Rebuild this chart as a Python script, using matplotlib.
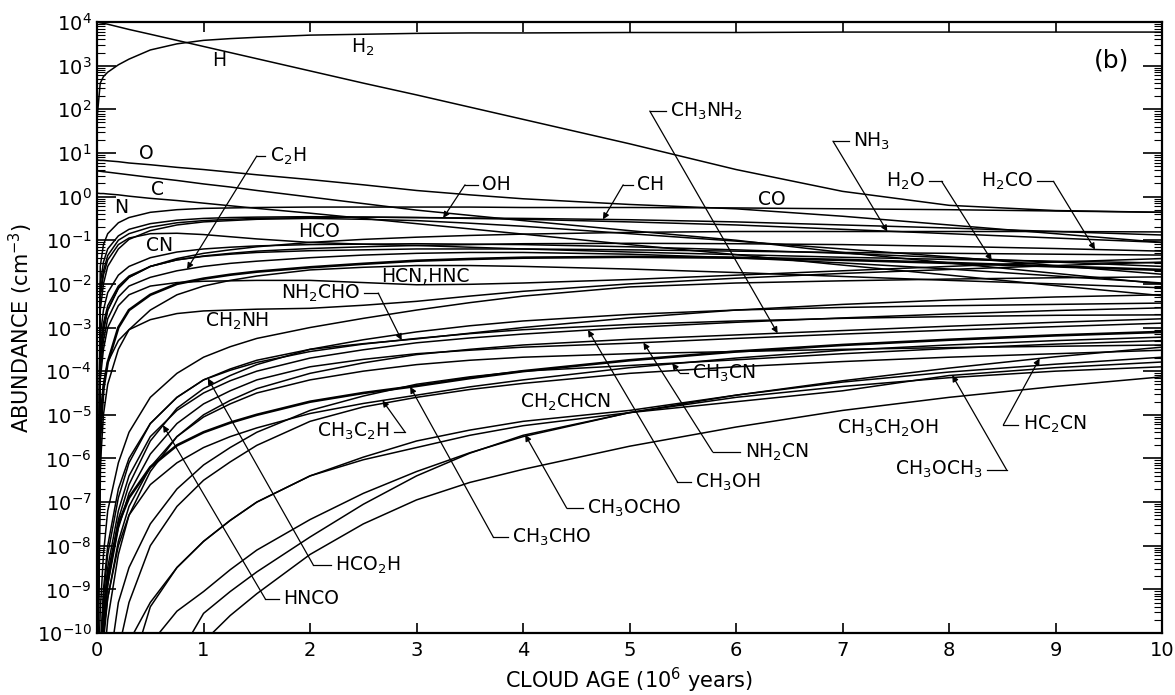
import numpy as np
import matplotlib
matplotlib.use("Agg")
import matplotlib.pyplot as plt
from matplotlib.ticker import LogLocator, NullFormatter

plt.rcParams["font.family"] = ["DejaVu Sans"]
plt.rcParams["mathtext.fontset"] = "dejavusans"

# cloud age (10^6 yr) and log10 abundance (cm^-3) at each age
t_grid = [0, 0.03, 0.06, 0.1, 0.2, 0.3, 0.5, 0.75, 1, 1.25, 1.5, 2, 2.5, 3, 3.5, 4, 5, 6, 7, 8, 9, 10]

ab_H = [4.0, 3.98, 3.97, 3.95, 3.89, 3.83, 3.72, 3.58, 3.44, 3.3, 3.16, 2.88, 2.6, 2.33, 2.05, 1.77, 1.21, 0.62, 0.12, -0.2, -0.32, -0.36]
ab_H2 = [1.8, 2.6, 2.75, 2.85, 3.02, 3.15, 3.36, 3.5, 3.58, 3.62, 3.65, 3.7, 3.72, 3.74, 3.75, 3.75, 3.76, 3.76, 3.77, 3.77, 3.77, 3.77]
ab_O = [0.84, 0.83, 0.83, 0.82, 0.80, 0.77, 0.73, 0.67, 0.62, 0.56, 0.50, 0.39, 0.27, 0.14, 0.04, -0.05, -0.18, -0.28, -0.45, -0.65, -0.85, -1.05]
ab_C = [0.59, 0.58, 0.57, 0.56, 0.53, 0.50, 0.44, 0.37, 0.29, 0.22, 0.14, -0.01, -0.16, -0.31, -0.43, -0.55, -0.78, -1.0, -1.28, -1.52, -1.76, -2.0]
ab_N = [0.08, 0.07, 0.07, 0.06, 0.04, 0.01, -0.04, -0.09, -0.15, -0.21, -0.27, -0.38, -0.5, -0.62, -0.74, -0.86, -1.1, -1.33, -1.57, -1.8, -2.04, -2.27]
ab_CO = [-12, -1.6, -1.1, -0.85, -0.6, -0.48, -0.36, -0.3, -0.27, -0.26, -0.25, -0.24, -0.24, -0.24, -0.24, -0.25, -0.25, -0.26, -0.28, -0.3, -0.33, -0.36]
ab_OH = [-12, -2.0, -1.5, -1.2, -0.9, -0.75, -0.62, -0.54, -0.5, -0.48, -0.47, -0.46, -0.47, -0.48, -0.5, -0.52, -0.58, -0.65, -0.75, -0.85, -0.95, -1.05]
ab_CH = [-12, -2.2, -1.7, -1.35, -1.0, -0.85, -0.7, -0.6, -0.55, -0.52, -0.5, -0.48, -0.47, -0.48, -0.49, -0.5, -0.53, -0.58, -0.65, -0.72, -0.8, -0.88]
ab_NH3 = [-12, -3.8, -3.1, -2.6, -2.1, -1.85, -1.6, -1.42, -1.3, -1.22, -1.15, -1.05, -0.98, -0.93, -0.89, -0.86, -0.82, -0.8, -0.8, -0.8, -0.8, -0.81]
ab_H2O = [-12, -2.6, -2.0, -1.6, -1.2, -0.98, -0.78, -0.65, -0.58, -0.55, -0.52, -0.5, -0.52, -0.55, -0.61, -0.68, -0.85, -1.02, -1.2, -1.38, -1.58, -1.78]
ab_H2CO = [-12, -3.4, -2.9, -2.5, -2.05, -1.82, -1.6, -1.45, -1.36, -1.3, -1.25, -1.19, -1.15, -1.12, -1.1, -1.08, -1.07, -1.08, -1.1, -1.14, -1.19, -1.25]
ab_HCO = [-12, -3.2, -2.6, -2.2, -1.8, -1.6, -1.4, -1.27, -1.2, -1.16, -1.13, -1.1, -1.09, -1.08, -1.09, -1.1, -1.15, -1.22, -1.3, -1.4, -1.5, -1.6]
ab_CN = [-12, -2.3, -1.8, -1.45, -1.1, -0.95, -0.85, -0.84, -0.87, -0.92, -0.97, -1.05, -1.09, -1.12, -1.16, -1.2, -1.27, -1.33, -1.39, -1.44, -1.48, -1.52]
ab_C2H = [-12, -4.0, -3.3, -2.8, -2.3, -2.05, -1.85, -1.7, -1.6, -1.53, -1.48, -1.4, -1.34, -1.3, -1.28, -1.28, -1.32, -1.4, -1.52, -1.66, -1.82, -1.98]
ab_HCN = [-12, -4.2, -3.5, -3.0, -2.5, -2.25, -2.05, -1.97, -1.94, -1.93, -1.92, -1.92, -1.97, -2.02, -2.01, -1.98, -1.9, -1.8, -1.7, -1.6, -1.5, -1.42]
ab_HNC = [-12, -5.0, -4.3, -3.8, -3.3, -3.05, -2.82, -2.68, -2.62, -2.6, -2.58, -2.56, -2.49, -2.4, -2.28, -2.17, -2.0, -1.87, -1.76, -1.67, -1.58, -1.5]
ab_bold = [-12, -5.5, -4.4, -3.8, -3.0, -2.6, -2.25, -2.0, -1.88, -1.79, -1.72, -1.62, -1.54, -1.47, -1.43, -1.4, -1.38, -1.4, -1.45, -1.52, -1.6, -1.68]
ab_X1 = [-12, -3.6, -3.0, -2.6, -2.1, -1.85, -1.6, -1.45, -1.37, -1.32, -1.28, -1.24, -1.22, -1.2, -1.2, -1.2, -1.22, -1.25, -1.28, -1.3, -1.32, -1.34]
ab_Y1 = [-12, -6.2, -5.0, -4.3, -3.5, -3.05, -2.6, -2.25, -2.05, -1.92, -1.82, -1.68, -1.62, -1.58, -1.58, -1.6, -1.66, -1.74, -1.83, -1.92, -2.0, -2.09]
ab_CH2NH = [-12, -9.5, -8.2, -7.2, -6.1, -5.4, -4.6, -4.05, -3.68, -3.44, -3.25, -3.0, -2.79, -2.6, -2.43, -2.28, -2.07, -1.98, -1.93, -1.89, -1.86, -1.84]
ab_NH2CHO = [-12, -10.5, -9.2, -8.2, -6.9, -6.1, -5.2, -4.6, -4.2, -3.95, -3.75, -3.5, -3.37, -3.26, -3.13, -3.0, -2.78, -2.6, -2.47, -2.37, -2.3, -2.25]
ab_HNCO = [-12, -11.5, -10.0, -8.9, -7.4, -6.6, -5.6, -4.85, -4.4, -4.1, -3.85, -3.5, -3.28, -3.1, -2.96, -2.85, -2.7, -2.6, -2.54, -2.5, -2.47, -2.44]
ab_HCO2H = [-12, -10.5, -9.0, -8.0, -6.7, -6.0, -5.2, -4.6, -4.2, -3.98, -3.8, -3.55, -3.38, -3.25, -3.14, -3.05, -2.93, -2.85, -2.79, -2.75, -2.72, -2.71]
ab_CH3OH = [-12, -10.8, -9.5, -8.5, -7.2, -6.4, -5.5, -4.9, -4.5, -4.22, -4.0, -3.7, -3.51, -3.35, -3.24, -3.15, -3.0, -2.88, -2.78, -2.69, -2.61, -2.55]
ab_CH3NH2 = [-12, -12, -10.8, -9.7, -8.2, -7.3, -6.3, -5.5, -5.0, -4.67, -4.4, -4.05, -3.81, -3.62, -3.5, -3.4, -3.27, -3.17, -3.07, -2.97, -2.88, -2.8]
ab_NH2CN = [-12, -11.0, -9.8, -8.9, -7.6, -6.8, -5.9, -5.2, -4.75, -4.45, -4.2, -3.9, -3.73, -3.6, -3.52, -3.45, -3.36, -3.25, -3.15, -3.06, -2.98, -2.9]
ab_CH3CHO = [-12, -11.0, -9.6, -8.7, -7.5, -6.9, -6.2, -5.7, -5.4, -5.18, -5.0, -4.7, -4.5, -4.34, -4.16, -4.0, -3.75, -3.55, -3.4, -3.28, -3.18, -3.1]
ab_CH3C2H = [-12, -11.5, -10.2, -9.2, -8.0, -7.3, -6.6, -6.1, -5.75, -5.5, -5.3, -4.97, -4.74, -4.55, -4.36, -4.2, -3.92, -3.7, -3.52, -3.4, -3.3, -3.22]
ab_CH3CN = [-12, -12, -12, -11.0, -9.3, -8.5, -7.5, -6.7, -6.15, -5.75, -5.4, -4.9, -4.57, -4.3, -4.13, -4.0, -3.87, -3.74, -3.6, -3.48, -3.38, -3.3]
ab_X2 = [-12, -11.0, -10.0, -9.2, -7.9, -7.1, -6.2, -5.5, -5.05, -4.75, -4.5, -4.2, -4.0, -3.85, -3.75, -3.68, -3.6, -3.55, -3.5, -3.46, -3.43, -3.4]
ab_X3 = [-12, -12, -12, -12, -10.4, -9.3, -8.0, -7.1, -6.5, -6.08, -5.7, -5.15, -4.82, -4.6, -4.42, -4.28, -4.05, -3.9, -3.78, -3.68, -3.6, -3.52]
ab_HC2CN = [-12, -12, -12, -12, -12, -11.0, -9.4, -8.5, -7.9, -7.42, -7.0, -6.4, -5.97, -5.6, -5.35, -5.15, -4.9, -4.55, -4.22, -3.93, -3.67, -3.45]
ab_CH3OCH3 = [-12, -12, -12, -12, -12, -10.2, -9.3, -8.5, -7.9, -7.42, -7.0, -6.4, -6.03, -5.75, -5.47, -5.25, -4.95, -4.7, -4.45, -4.1, -3.92, -3.79]
ab_CH2CHCN = [-12, -12, -12, -12, -12, -12, -10.25, -9.5, -9.05, -8.55, -8.1, -7.4, -6.8, -6.3, -5.87, -5.5, -4.95, -4.55, -4.25, -4.02, -3.84, -3.68]
ab_CH3OCHO = [-12, -12, -12, -12, -12, -12, -12, -10.6, -9.55, -9.05, -8.6, -7.8, -7.05, -6.4, -5.88, -5.47, -4.95, -4.6, -4.35, -4.15, -4.0, -3.9]
ab_CH3CH2OH = [-12, -12, -12, -12, -12, -12, -12, -12, -10.2, -9.6, -9.1, -8.2, -7.5, -6.95, -6.55, -6.25, -5.72, -5.28, -4.9, -4.6, -4.35, -4.13]

curves = [ab_H, ab_H2, ab_O, ab_C, ab_N, ab_CO, ab_OH, ab_CH, ab_NH3, ab_H2O, ab_H2CO,
          ab_HCO, ab_CN, ab_C2H, ab_HCN, ab_HNC, ab_X1, ab_Y1, ab_CH2NH, ab_NH2CHO,
          ab_HNCO, ab_HCO2H, ab_CH3OH, ab_CH3NH2, ab_NH2CN, ab_CH3C2H, ab_CH3CN,
          ab_X2, ab_X3, ab_HC2CN, ab_CH3OCH3, ab_CH2CHCN, ab_CH3OCHO, ab_CH3CH2OH]
heavy = [ab_bold, ab_CH3CHO]

# labels sitting next to their curve: text, age, log n
plain_labels = [
    ("H", 1.15, 3.11), (r"H$_2$", 2.49, 3.41), ("O", 0.46, 0.98), ("C", 0.57, 0.17),
    ("N", 0.23, -0.24), ("CN", 0.59, -1.11), ("HCO", 2.08, -0.81), ("CO", 6.34, -0.07),
    ("HCN,HNC", 3.08, -1.82), (r"CH$_2$NH", 1.31, -2.87), (r"CH$_2$CHCN", 4.40, -4.71),
    (r"CH$_3$CH$_2$OH", 7.42, -5.30),
]

# labels with a leader: text, curve, arrow age, text age, text log n, elbow age, alignment
leader_labels = [
    (r"C$_2$H", ab_C2H, 0.845, 1.62, 0.93, 1.50, "left"),
    ("OH", ab_OH, 3.25, 3.615, 0.27, 3.455, "left"),
    ("CH", ab_CH, 4.75, 5.07, 0.27, 4.94, "left"),
    (r"CH$_3$NH$_2$", ab_CH3NH2, 6.39, 5.38, 1.96, 5.19, "left"),
    (r"NH$_3$", ab_NH3, 7.42, 7.10, 1.27, 6.91, "left"),
    (r"H$_2$O", ab_H2O, 8.40, 7.775, 0.35, 7.93, "right"),
    (r"H$_2$CO", ab_H2CO, 9.37, 8.79, 0.35, 8.98, "right"),
    (r"NH$_2$CHO", ab_NH2CHO, 2.86, 2.47, -2.21, 2.64, "right"),
    (r"CH$_3$CN", ab_CH3CN, 5.40, 5.59, -4.04, 5.47, "left"),
    (r"CH$_3$C$_2$H", ab_CH3C2H, 2.68, 2.75, -5.39, 2.89, "right"),
    (r"HC$_2$CN", ab_HC2CN, 8.85, 8.69, -5.23, 8.51, "left"),
    (r"CH$_3$OCH$_3$", ab_CH3OCH3, 8.03, 8.32, -6.26, 8.54, "right"),
    (r"NH$_2$CN", ab_NH2CN, 5.13, 6.08, -5.85, 5.78, "left"),
    (r"CH$_3$OH", ab_CH3OH, 4.61, 5.615, -6.54, 5.45, "left"),
    (r"CH$_3$OCHO", ab_CH3OCHO, 4.02, 4.60, -7.14, 4.41, "left"),
    (r"CH$_3$CHO", ab_CH3CHO, 2.94, 3.90, -7.80, 3.72, "left"),
    (r"HCO$_2$H", ab_HCO2H, 1.04, 2.235, -8.44, 2.03, "left"),
    ("HNCO", ab_HNCO, 0.62, 1.75, -9.22, 1.58, "left"),
]

fig = plt.figure(figsize=(11.75, 6.95), dpi=100)
ax = fig.add_axes([0.0826, 0.0892, 0.9064, 0.8791])

for v in curves:
    ax.plot(t_grid, 10.0 ** np.array(v), color="k", lw=1.1)
for v in heavy:
    ax.plot(t_grid, 10.0 ** np.array(v), color="k", lw=1.9)

fs = 13.5
for txt, t, lg in plain_labels:
    ax.text(t, 10.0 ** lg, txt, ha="center", va="center", fontsize=fs)

for txt, vals, t_tip, t_txt, lg, t_elb, ha in leader_labels:
    y_tip = 10.0 ** np.interp(t_tip, t_grid, vals)
    y = 10.0 ** lg
    t_hook = t_txt - 0.04 if ha == "left" else t_txt + 0.04
    ax.plot([t_elb, t_hook], [y, y], color="k", lw=0.9)
    ax.annotate("", xy=(t_tip, y_tip), xytext=(t_elb, y),
                arrowprops=dict(arrowstyle="-|>", color="k", lw=0.9,
                                mutation_scale=9, shrinkA=0, shrinkB=0))
    ax.text(t_txt, y, txt, ha=ha, va="center", fontsize=fs)

ax.text(9.53, 10.0 ** 3.12, "(b)", ha="center", va="center", fontsize=18)

ax.set_yscale("log")
ax.set_xlim(0, 10)
ax.set_ylim(1e-10, 1e4)
ax.yaxis.set_major_locator(LogLocator(base=10, numticks=20))
ax.yaxis.set_minor_locator(LogLocator(base=10, subs=np.arange(2, 10), numticks=20))
ax.yaxis.set_minor_formatter(NullFormatter())
ax.set_xticks(range(11))
ax.tick_params(axis="y", which="major", direction="in", length=14, width=1.2,
               right=True, labelsize=14, pad=4)
ax.tick_params(axis="y", which="minor", direction="in", length=6, width=0.8, right=True)
ax.tick_params(axis="x", which="major", direction="in", length=7, width=1.2,
               top=True, labelsize=14, pad=6)
for s in ax.spines.values():
    s.set_linewidth(1.6)

ax.set_xlabel(r"CLOUD AGE (10$^6$ years)", fontsize=15, labelpad=4)
ax.set_ylabel(r"ABUNDANCE (cm$^{-3}$)", fontsize=15, labelpad=1)

fig.savefig("out.png", dpi=100)
